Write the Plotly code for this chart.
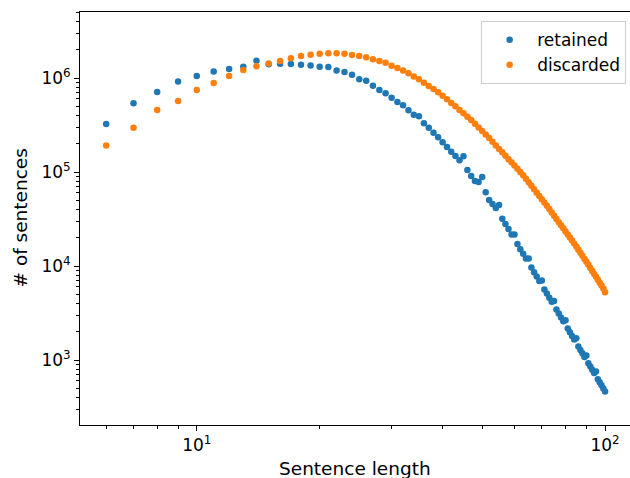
import plotly.graph_objects as go

# sentence lengths 6..100
lengths = list(range(6, 101))

retained = [
    3.25e5, 5.4e5, 7.1e5, 9.2e5, 1.05e6, 1.17e6, 1.25e6, 1.32e6, 1.53e6, 1.40e6,  # 6-15
    1.42e6, 1.41e6, 1.38e6, 1.36e6, 1.32e6, 1.31e6, 1.20e6, 1.16e6, 1.08e6, 9.7e5,  # 16-25
    9.36e5, 8.28e5, 7.45e5, 6.87e5, 6.17e5, 5.56e5, 5.13e5, 4.53e5, 4.07e5, 3.92e5,  # 26-35
    3.30e5, 2.96e5, 2.62e5, 2.34e5, 2.07e5, 1.85e5, 1.64e5, 1.48e5, 1.33e5, 1.47e5,  # 36-45
    1.05e5, 9.06e4, 8.0e4, 7.83e4, 8.85e4, 6.08e4, 5.04e4, 4.57e4, 4.14e4, 4.46e4,  # 46-55
    3.18e4, 2.80e4, 2.47e4, 2.17e4, 2.16e4, 1.71e4, 1.51e4, 1.35e4, 1.20e4, 1.20e4,  # 56-65
    9.62e3, 8.61e3, 7.73e3, 6.95e3, 7.01e3, 5.64e3, 5.09e3, 4.60e3, 4.17e3, 4.24e3,  # 66-75
    3.44e3, 3.12e3, 2.84e3, 2.59e3, 2.65e3, 2.16e3, 1.97e3, 1.80e3, 1.65e3, 1.70e3,  # 76-85
    1.39e3, 1.28e3, 1.18e3, 1.08e3, 1.12e3, 923, 851, 787, 728, 757,  # 86-95
    624, 579, 538, 499, 463,  # 96-100
]

discarded = [
    1.91e5, 2.96e5, 4.57e5, 5.69e5, 7.45e5, 8.85e5, 1.05e6, 1.22e6, 1.33e6, 1.43e6,  # 6-15
    1.52e6, 1.62e6, 1.71e6, 1.77e6, 1.81e6, 1.83e6, 1.83e6, 1.81e6, 1.76e6, 1.71e6,  # 16-25
    1.66e6, 1.58e6, 1.52e6, 1.45e6, 1.35e6, 1.28e6, 1.20e6, 1.12e6, 1.04e6, 9.7e5,  # 26-35
    8.9e5, 8.2e5, 7.64e5, 7.05e5, 6.48e5, 5.93e5, 5.42e5, 5.0e5, 4.57e5, 4.21e5,  # 36-45
    3.87e5, 3.58e5, 3.27e5, 2.98e5, 2.73e5, 2.51e5, 2.30e5, 2.10e5, 1.92e5, 1.76e5,  # 46-55
    1.62e5, 1.49e5, 1.37e5, 1.27e5, 1.17e5, 1.08e5, 9.98e4, 9.23e4, 8.49e4, 7.78e4,  # 56-65
    7.13e4, 6.55e4, 6.03e4, 5.56e4, 5.13e4, 4.73e4, 4.38e4, 4.04e4, 3.72e4, 3.43e4,  # 66-75
    3.17e4, 2.93e4, 2.72e4, 2.52e4, 2.33e4, 2.16e4, 2.01e4, 1.87e4, 1.74e4, 1.61e4,  # 76-85
    1.49e4, 1.38e4, 1.29e4, 1.19e4, 1.11e4, 1.03e4, 9.55e3, 8.87e3, 8.24e3, 7.67e3,  # 86-95
    7.13e3, 6.64e3, 6.19e3, 5.75e3, 5.25e3,  # 96-100
]

x_major = [10, 100]
x_major_text = ["10<sup>1</sup>", "10<sup>2</sup>"]
y_major = [1e3, 1e4, 1e5, 1e6]
y_major_text = ["10<sup>3</sup>", "10<sup>4</sup>", "10<sup>5</sup>", "10<sup>6</sup>"]

x_minor = [m * 10 ** k for k in (0, 1) for m in range(2, 10)]
y_minor = [m * 10 ** k for k in range(2, 7) for m in range(2, 10)]

fig = go.Figure()
fig.add_trace(go.Scatter(x=lengths, y=retained, mode="markers", name="retained",
                         marker=dict(color="#1f77b4", size=6.5, line=dict(width=0))))
fig.add_trace(go.Scatter(x=lengths, y=discarded, mode="markers", name="discarded",
                         marker=dict(color="#ff7f0e", size=6.5, line=dict(width=0))))

axis_common = dict(
    showgrid=False, zeroline=False, showline=True, linecolor="black", linewidth=1,
    ticks="outside", ticklen=5, tickwidth=1, tickcolor="black",
    tickfont=dict(size=17, color="black"), automargin=False,
)

fig.update_xaxes(type="log", range=[0.714, 2.061], tickmode="array",
                 tickvals=x_major, ticktext=x_major_text, mirror=True,
                 minor=dict(tickvals=x_minor, ticks="outside", ticklen=3,
                            tickwidth=1, tickcolor="black", showgrid=False),
                 **axis_common)
fig.update_yaxes(type="log", range=[2.309, 6.702], tickmode="array",
                 tickvals=y_major, ticktext=y_major_text,
                 minor=dict(tickvals=y_minor, ticks="outside", ticklen=3,
                            tickwidth=1, tickcolor="black", showgrid=False),
                 **axis_common)

# axis titles placed like matplotlib's labels
fig.add_annotation(text="Sentence length", xref="paper", yref="paper", x=0.5, y=0,
                   xanchor="center", yanchor="middle", yshift=-43, showarrow=False,
                   font=dict(size=18.5, color="black"))
fig.add_annotation(text="# of sentences", xref="paper", yref="paper", x=0, y=0.5,
                   xanchor="center", yanchor="middle", xshift=-60, textangle=-90,
                   showarrow=False, font=dict(size=18.5, color="black"))

fig.update_layout(
    width=630, height=478,
    margin=dict(l=80, r=0, t=12, b=53),
    plot_bgcolor="white", paper_bgcolor="white",
    font=dict(family="DejaVu Sans", color="black"),
    showlegend=True,
    legend=dict(x=0.993, y=0.978, xanchor="right", yanchor="top",
                bgcolor="rgba(255,255,255,0.8)", bordercolor="#cccccc", borderwidth=1,
                font=dict(size=17, color="black"), itemwidth=45),
)

fig.write_html("out.html", config={"displayModeBar": False},
               post_script="document.body.style.margin='0px';")
